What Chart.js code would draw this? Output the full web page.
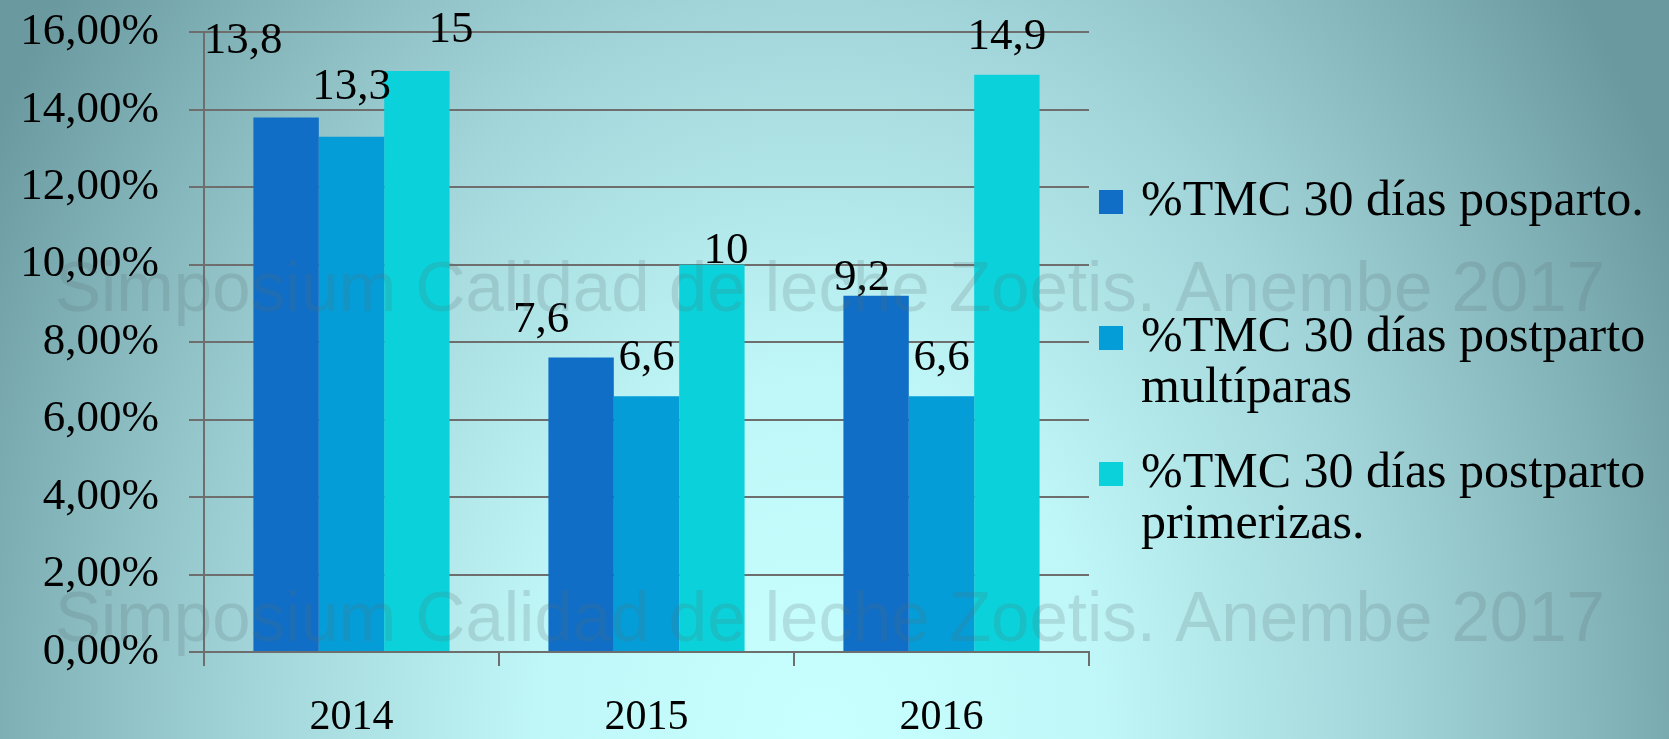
<!DOCTYPE html>
<html>
<head>
<meta charset="utf-8">
<script src="https://cdn.jsdelivr.net/npm/chart.js@4.4.1/dist/chart.umd.min.js"></script>
<style>
  html, body { margin: 0; padding: 0; }
  #wrap { width: 1669px; height: 739px; }
</style>
</head>
<body>
<div id="wrap"><canvas id="chart"></canvas></div>
<script>
const years = ['2014', '2015', '2016'];
const posparto = [13.8, 7.6, 9.2];
const multiparas = [13.3, 6.6, 6.6];
const primerizas = [15, 10, 14.9];
const seriesNames = [
  '%TMC 30 días posparto.',
  '%TMC 30 días postparto multíparas',
  '%TMC 30 días postparto primerizas.'
];
const legendLines = [
  ['%TMC 30 días posparto.', ''],
  ['%TMC 30 días postparto', 'multíparas'],
  ['%TMC 30 días postparto', 'primerizas.']
];
const yTickLabels = ['0,00%', '2,00%', '4,00%', '6,00%', '8,00%', '10,00%', '12,00%', '14,00%', '16,00%'];
// nudges for the value labels, per series, as in the original slide
const labelNudge = [
  [[-43, -38], [-40, 0], [-14, 20]],
  [[0, -12], [0, 0], [0, 0]],
  [[34, -3], [14, 24], [0, 0]]
];
const watermark = 'Simposium Calidad de leche Zoetis. Anembe 2017';

const serif = '"Liberation Serif", "DejaVu Serif", serif';
const colors = ['#106ec6', '#049dd8', '#0bd2da'];

const background = {
  id: 'background',
  beforeDraw(chart) {
    const ctx = chart.ctx;
    ctx.save();
    ctx.translate(820, 739);
    ctx.scale(1, 1.3);
    const g = ctx.createRadialGradient(0, 0, 0, 0, 0, 950);
    g.addColorStop(0, '#c8ffff');
    g.addColorStop(0.3, '#bff6f7');
    g.addColorStop(0.6, '#a2d5d9');
    g.addColorStop(0.85, '#80b1b6');
    g.addColorStop(1, '#6a9a9f');
    ctx.fillStyle = g;
    ctx.fillRect(-900, -700, 1900, 800);
    ctx.restore();
  }
};

const valueLabels = {
  id: 'valueLabels',
  afterDatasetsDraw(chart) {
    const ctx = chart.ctx;
    ctx.save();
    ctx.font = '45px ' + serif;
    ctx.fillStyle = '#000';
    ctx.textAlign = 'center';
    ctx.textBaseline = 'alphabetic';
    chart.data.datasets.forEach((ds, si) => {
      chart.getDatasetMeta(si).data.forEach((bar, i) => {
        const n = labelNudge[si][i];
        const txt = String(ds.data[i]).replace('.', ',');
        ctx.fillText(txt, bar.x + n[0], bar.y - 26 + n[1]);
      });
    });
    ctx.restore();
  }
};

// legend drawn by hand so the long two-line entries keep their width
const sideLegend = {
  id: 'sideLegend',
  afterDraw(chart) {
    const ctx = chart.ctx;
    const x = chart.chartArea.right + 10;
    let y = 202;
    const lh = 51;
    ctx.save();
    ctx.font = '50px ' + serif;
    ctx.textBaseline = 'middle';
    ctx.textAlign = 'left';
    legendLines.forEach((lines, i) => {
      ctx.fillStyle = colors[i];
      ctx.fillRect(x, y - 12, 24, 24);
      ctx.fillStyle = '#000';
      lines.forEach((t, k) => ctx.fillText(t, x + 42, y + k * lh));
      y += lines.length * lh + 34;
    });
    ctx.restore();
  }
};

const stamp = {
  id: 'stamp',
  afterDraw(chart) {
    const ctx = chart.ctx;
    ctx.save();
    ctx.font = '70px "Liberation Sans", Arial, sans-serif';
    const w = ctx.measureText(watermark).width;
    ctx.translate(55, 0);
    ctx.scale(1550 / w, 1);
    ctx.fillStyle = 'rgba(90, 110, 115, 0.2)';
    ctx.textBaseline = 'alphabetic';
    ctx.fillText(watermark, 0, 311);
    ctx.fillText(watermark, 0, 641);
    ctx.restore();
  }
};

new Chart(document.getElementById('chart'), {
  type: 'bar',
  data: {
    labels: years,
    datasets: [
      { label: seriesNames[0], data: posparto, backgroundColor: colors[0] },
      { label: seriesNames[1], data: multiparas, backgroundColor: colors[1] },
      { label: seriesNames[2], data: primerizas, backgroundColor: colors[2] }
    ]
  },
  options: {
    responsive: true,
    maintainAspectRatio: false,
    animation: false,
    events: [],
    layout: { padding: { left: 0, top: 0, right: 580, bottom: 0 } },
    datasets: {
      bar: { categoryPercentage: 0.665, barPercentage: 1.0 }
    },
    scales: {
      x: {
        grid: { display: true, drawOnChartArea: false, offset: true, tickLength: 14, color: '#6e6e6e', lineWidth: 2 },
        border: { color: '#6e6e6e', width: 2 },
        ticks: { color: '#000', padding: 31, font: { family: serif, size: 42, lineHeight: 1 } },
        afterFit(scale) { scale.height = 87; }
      },
      y: {
        min: 0,
        max: 16,
        ticks: {
          stepSize: 2,
          color: '#000',
          padding: 30,
          font: { family: serif, size: 45, lineHeight: 0.1 },
          callback: (v, i) => yTickLabels[i]
        },
        grid: { color: '#6e6e6e', lineWidth: 2, tickLength: 15 },
        border: { color: '#6e6e6e', width: 2 },
        afterFit(scale) { scale.width = 204; }
      }
    },
    plugins: {
      legend: { display: false },
      tooltip: { enabled: false }
    }
  },
  plugins: [background, valueLabels, sideLegend, stamp]
});
</script>
</body>
</html>
